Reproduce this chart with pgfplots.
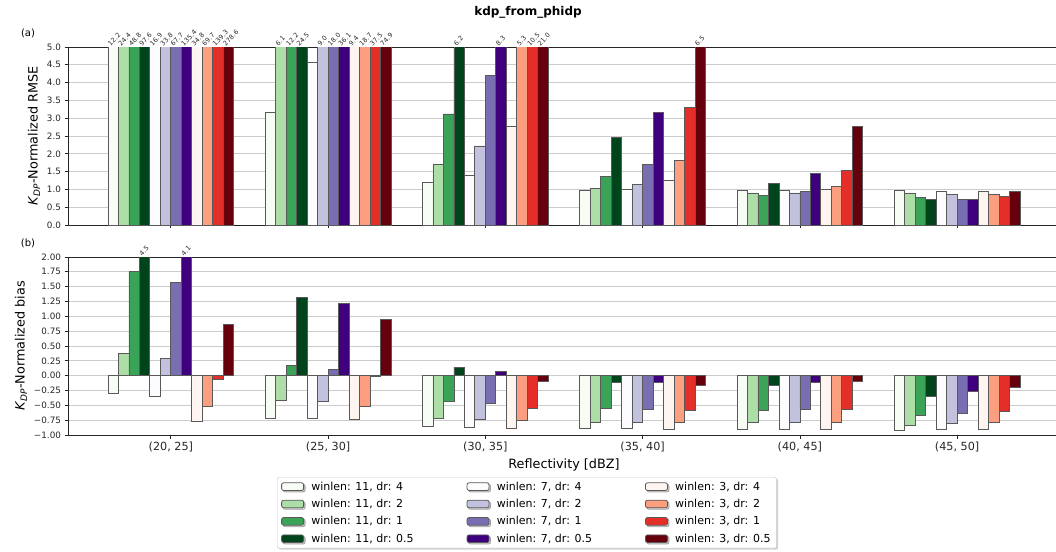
\documentclass[border=0pt]{standalone}
\usepackage{fontspec}
\setmainfont{DejaVu Sans}
\usepackage{pgfplots}
\usepackage{pgfplotstable}
\pgfplotsset{compat=1.18}
\usetikzlibrary{shadows}

\definecolor{G0}{HTML}{F7FCF5}
\definecolor{G1}{HTML}{ADDEA7}
\definecolor{G2}{HTML}{3AA357}
\definecolor{G3}{HTML}{00441B}
\definecolor{P0}{HTML}{FCFBFD}
\definecolor{P1}{HTML}{C2C2DF}
\definecolor{P2}{HTML}{796EB2}
\definecolor{P3}{HTML}{3F007D}
\definecolor{R0}{HTML}{FFF5F0}
\definecolor{R1}{HTML}{FC9E80}
\definecolor{R2}{HTML}{E32F27}
\definecolor{R3}{HTML}{67000D}

% a = winlen 11, b = winlen 7, c = winlen 3 ; suffix = dr
\pgfplotstableread{
x  a4    a2    a1    a05   b4    b2    b1    b05   c4    c2    c1    c05
0  12.2  24.4  48.8  97.6  16.9  33.8  67.7  135.4 34.8  69.7  139.3 278.6
1  3.15  6.1   12.2  24.5  4.57  9.0   18.0  36.1  9.4   18.7  37.5  74.9
2  1.19  1.71  3.12  6.2   1.40  2.22  4.20  8.3   2.78  5.3   10.5  21.0
3  0.97  1.03  1.36  2.46  1.01  1.14  1.69  3.16  1.24  1.82  3.30  6.5
4  0.97  0.90  0.84  1.16  0.96  0.90  0.93  1.45  1.00  1.08  1.52  2.78
5  0.97  0.90  0.77  0.71  0.955 0.87  0.73  0.71  0.955 0.87  0.79  0.94
}\rmse

\pgfplotstableread{
x  a4     a2    a1    a05   b4    b2    b1    b05   c4     c2     c1     c05
0  -0.30  0.38  1.75  4.5   -0.35 0.285 1.57  4.1   -0.765 -0.525 -0.056 0.87
1  -0.715 -0.41 0.168 1.32  -0.72 -0.44 0.11  1.21  -0.74  -0.51  -0.017 0.955
2  -0.86  -0.72 -0.43 0.14  -0.87 -0.73 -0.46 0.07  -0.89  -0.76  -0.545 -0.09
3  -0.89  -0.78 -0.55 -0.11 -0.89 -0.78 -0.56 -0.12 -0.90  -0.79  -0.58  -0.16
4  -0.90  -0.79 -0.58 -0.17 -0.90 -0.78 -0.56 -0.12 -0.90  -0.78  -0.56  -0.10
5  -0.92  -0.84 -0.67 -0.35 -0.91 -0.81 -0.63 -0.26 -0.90  -0.79  -0.60  -0.20
}\bias

\pgfplotsset{
  mybar/.style={ybar, bar width=10.48pt, fill=#1, draw=black!65, line width=0.8pt,
    legend image code/.code={\draw[##1] (0pt,-3.8pt) rectangle (22pt,3.8pt);}},
  lbl/.style={forget plot, draw=none, mark=none, nodes near coords,
    point meta=explicit symbolic,
    every node near coord/.append style={font=\fontsize{6.5}{7.5}\selectfont,
      text=black!85, inner sep=0.4pt, xshift=#1, rotate=45, anchor=south west}},
  common/.style={
    scale only axis, width=992pt, height=178pt,
    xmin=-0.654, xmax=5.654,
    xtick={0,1,2,3,4,5},
    tick align=outside, major tick length=3.5pt,
    xtick pos=left, ytick pos=left,
    ymajorgrids, major grid style={draw=black!20, line width=1pt},
    axis line style={black!85, line width=0.8pt},
    tick style={black!85, line width=0.8pt},
    yticklabel style={font=\fontsize{8.8}{10}\selectfont, text=black!85},
    xticklabel style={font=\fontsize{11.2}{13}\selectfont, text=black!85},
    label style={font=\fontsize{12.8}{15}\selectfont},
    /pgf/number format/assume math mode=true,
  },
}

\newcommand\allbars[1]{%
  \addplot[mybar=G0, bar shift=-57.64pt] table[x=x,y=a4]{#1};
  \addplot[mybar=P0, bar shift=-15.72pt] table[x=x,y=b4]{#1};
  \addplot[mybar=R0, bar shift=26.20pt] table[x=x,y=c4]{#1};
  \addplot[mybar=G1, bar shift=-47.16pt] table[x=x,y=a2]{#1};
  \addplot[mybar=P1, bar shift=-5.24pt] table[x=x,y=b2]{#1};
  \addplot[mybar=R1, bar shift=36.68pt] table[x=x,y=c2]{#1};
  \addplot[mybar=G2, bar shift=-36.68pt] table[x=x,y=a1]{#1};
  \addplot[mybar=P2, bar shift=5.24pt] table[x=x,y=b1]{#1};
  \addplot[mybar=R2, bar shift=47.16pt] table[x=x,y=c1]{#1};
  \addplot[mybar=G3, bar shift=-26.20pt] table[x=x,y=a05]{#1};
  \addplot[mybar=P3, bar shift=15.72pt] table[x=x,y=b05]{#1};
  \addplot[mybar=R3, bar shift=57.64pt] table[x=x,y=c05]{#1};
}

\begin{document}
\begin{tikzpicture}
\begin{axis}[common,
  at={(68pt,-225pt)}, anchor=south west,
  ymin=0, ymax=5,
  ytick={0,0.5,1,1.5,2,2.5,3,3.5,4,4.5,5},
  yticklabel={\pgfmathprintnumber[fixed,fixed zerofill,precision=1]{\tick}},
  xticklabels={,,,,,},
  ylabel={\textit{K}\textsubscript{\textit{DP}}-Normalized RMSE},
]
\allbars{\rmse}
\addplot[lbl=-60.1pt] coordinates {(0,5) [12.2]};
\addplot[lbl=-49.7pt] coordinates {(0,5) [24.4] (1,5) [6.1]};
\addplot[lbl=-39.2pt] coordinates {(0,5) [48.8] (1,5) [12.2]};
\addplot[lbl=-28.7pt] coordinates {(0,5) [97.6] (1,5) [24.5] (2,5) [6.2]};
\addplot[lbl=-18.2pt] coordinates {(0,5) [16.9]};
\addplot[lbl=-7.7pt] coordinates {(0,5) [33.8] (1,5) [9.0]};
\addplot[lbl=2.7pt] coordinates {(0,5) [67.7] (1,5) [18.0]};
\addplot[lbl=13.2pt] coordinates {(0,5) [135.4] (1,5) [36.1] (2,5) [8.3]};
\addplot[lbl=23.7pt] coordinates {(0,5) [34.8] (1,5) [9.4]};
\addplot[lbl=34.2pt] coordinates {(0,5) [69.7] (1,5) [18.7] (2,5) [5.3]};
\addplot[lbl=44.7pt] coordinates {(0,5) [139.3] (1,5) [37.5] (2,5) [10.5]};
\addplot[lbl=55.1pt] coordinates {(0,5) [278.6] (1,5) [74.9] (2,5) [21.0] (3,5) [6.5]};
\end{axis}

\begin{axis}[common,
  at={(68pt,-435pt)}, anchor=south west,
  ymin=-1, ymax=2,
  ytick={-1,-0.75,-0.5,-0.25,0,0.25,0.5,0.75,1,1.25,1.5,1.75,2},
  yticklabel={\pgfmathparse{abs(\tick)}\let\tabs=\pgfmathresult\ifdim\tick pt<-0.001pt −\fi\pgfmathprintnumber[fixed,fixed zerofill,precision=2]{\tabs}},
  xticklabels={{(20, 25]},{(25, 30]},{(30, 35]},{(35, 40]},{(40, 45]},{(45, 50]}},
  xlabel={Reflectivity [dBZ]},
  ylabel={\textit{K}\textsubscript{\textit{DP}}-Normalized bias},
  legend columns=3,
  legend cell align=left,
  legend entries={{winlen: 11, dr: 4},{winlen: 7, dr: 4},{winlen: 3, dr: 4},
    {winlen: 11, dr: 2},{winlen: 7, dr: 2},{winlen: 3, dr: 2},
    {winlen: 11, dr: 1},{winlen: 7, dr: 1},{winlen: 3, dr: 1},
    {winlen: 11, dr: 0.5},{winlen: 7, dr: 0.5},{winlen: 3, dr: 0.5}},
  legend style={at={(0.2107,-0.236)}, anchor=north west,
    draw=black!22, fill=white, rounded corners=2pt,
    drop shadow={shadow xshift=1.5pt, shadow yshift=-1.5pt, fill=black!35},
    font=\fontsize{11}{13}\selectfont, inner xsep=4pt, inner ysep=2.5pt,
    row sep=3.5pt,
    /tikz/every odd column/.append style={column sep=5.3pt},
    /tikz/every even column/.append style={column sep=51pt}},
]
\allbars{\bias}
\addplot[lbl=-28.7pt] coordinates {(0,2) [4.5]};
\addplot[lbl=13.2pt] coordinates {(0,2) [4.1]};
\end{axis}

\node[font=\bfseries\fontsize{12}{14}\selectfont] at (528pt,-12pt) {kdp\_from\_phidp};
\node[font=\fontsize{10}{12}\selectfont] at (28pt,-33pt) {(a)};
\node[font=\fontsize{10}{12}\selectfont] at (28pt,-243pt) {(b)};
\pgfresetboundingbox
\path[use as bounding box] (0pt,0pt) rectangle (1056pt,-551pt);
\end{tikzpicture}
\end{document}
